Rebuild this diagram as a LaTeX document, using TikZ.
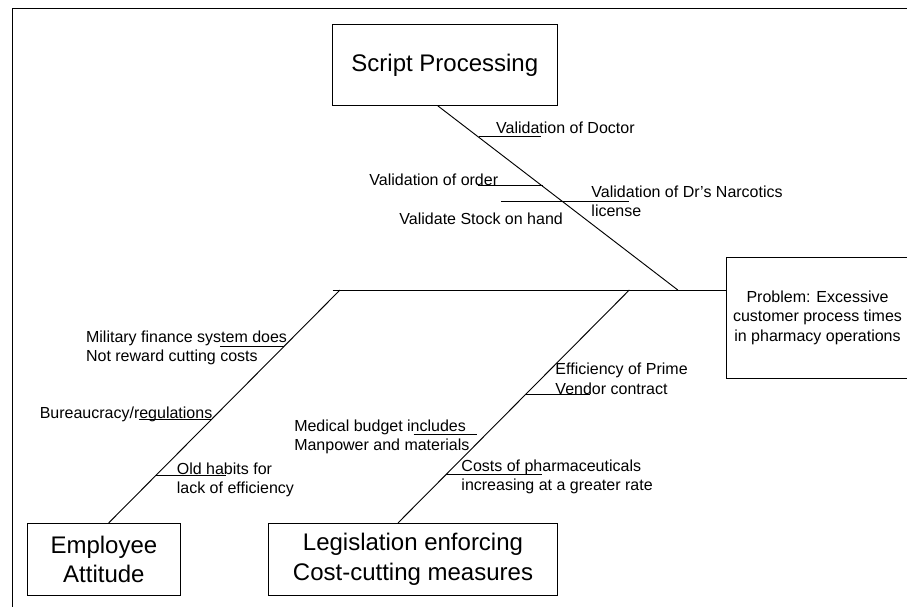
\documentclass[tikz,border=0pt]{standalone}
\usepackage{fontspec}
\setmainfont{Liberation Sans}
\usetikzlibrary{positioning}

\begin{document}
\begin{tikzpicture}[x=0.75pt,y=-0.75pt,line width=0.7pt,
  box/.style={draw,align=center,inner sep=2pt,font=\fontsize{18}{22}\selectfont},
  cause/.style={anchor=base west,align=left,inner sep=0pt,font=\fontsize{12}{14.5}\selectfont}]
\useasboundingbox (0,0) rectangle (907,607);
% frame
\draw (12,607) -- (12,8) -- (907,8);

% boxes
\node[box,minimum width=168.3pt,minimum height=60.7pt] (script) at (444.8,64.9) {Script Processing};
\node[box,minimum width=114.1pt,minimum height=54pt] (emp) at (103.9,559.4) {Employee\\Attitude};
\node[box,minimum width=216.8pt,minimum height=54pt] (leg) at (413,559.4) {Legislation enforcing\\Cost-cutting measures};
\node[box,minimum width=137.3pt,minimum height=90.4pt,font=\fontsize{12}{14.5}\selectfont] (prob) at (817.5,317.8)
  {Problem: Excessive\\customer process times\\in pharmacy operations};

% spine and bones
\coordinate (tail) at (332.6,290);
\coordinate (j1) at (340,290);
\coordinate (j2) at (629.3,290);
\coordinate (j3) at (677.8,290);
\draw (tail) -- (tail -| prob.west);
\draw ([xshift=-5.25pt]script.south) -- (j3);
\draw (j1) -- ([xshift=3.6pt]emp.north);
\draw (j2) -- ([xshift=-11.25pt]leg.north);

% small bones
\foreach \n/\xa/\xb/\yy in {s1/479/541/136.7, s2/477.7/542.6/185.8, s3/500.9/629.3/201.3,
    e1/219.8/283.5/346.5, e2/138.8/211.2/419.3, e3/155.6/225.6/475.4,
    l1/524.8/590/394.9, l2/413.5/477.2/434.8, l3/446/541.9/474.3}{
  \coordinate (\n a) at (\xa,\yy);
  \coordinate (\n b) at (\xb,\yy);
  \draw (\n a) -- (\n b);
}

% causes (two-line ones sit on the baseline of their last line)
\node[cause] (doc) at (495.7,133.5) {Validation of Doctor};
\node[cause] (ord) at (369,185) {Validation of order};
\node[cause] (stock) at (399,224.5) {Validate Stock on hand};
\node[cause] (narc) at (591,216.7) {Validation of Dr's Narcotics\\license};
\node[cause] (mil) at (85.6,361.9) {Military finance system does\\Not reward cutting costs};
\node[cause] (bur) at (39.3,418.5) {Bureaucracy/regulations};
\node[cause] (old) at (176.4,493.9) {Old habits for\\lack of efficiency};
\node[cause] (pvc) at (555,394) {Efficiency of Prime\\Vendor contract};
\node[cause] (med) at (293.8,450.9) {Medical budget includes\\Manpower and materials};
\node[cause] (cost) at (461,490.8) {Costs of pharmaceuticals\\increasing at a greater rate};
\end{tikzpicture}
\end{document}
